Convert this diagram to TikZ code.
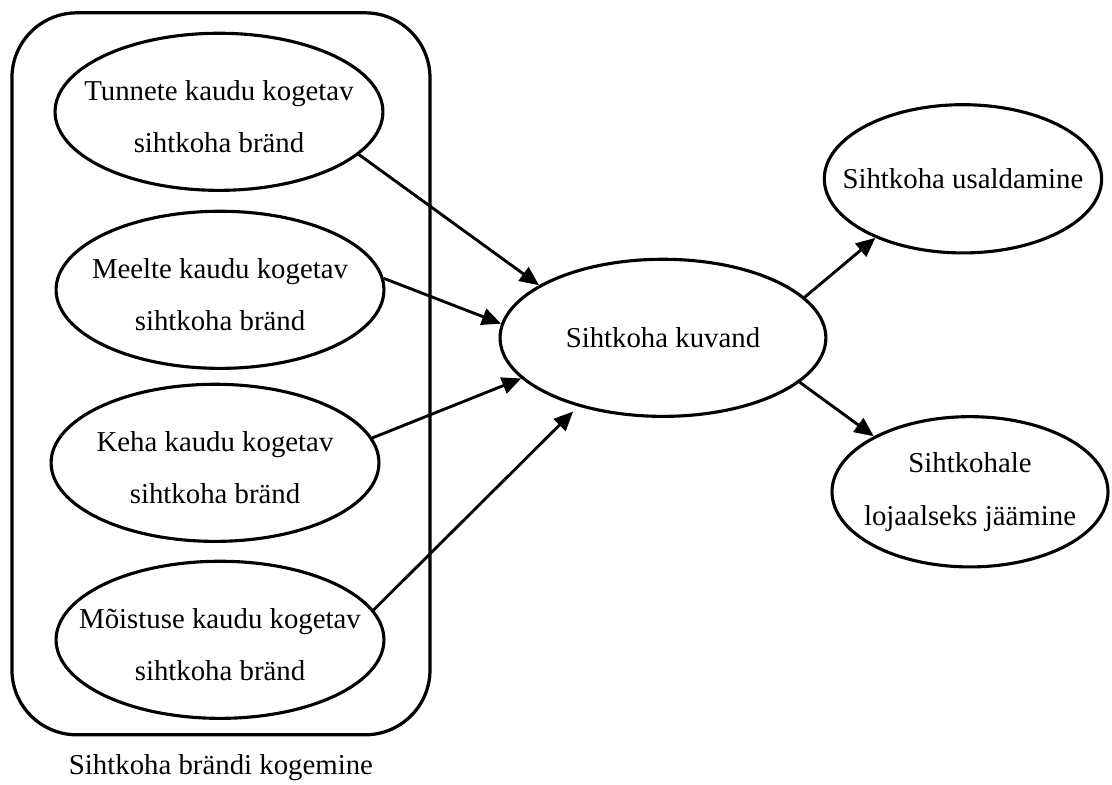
\documentclass[tikz,border=0pt]{standalone}
\usepackage{fontspec}
\setmainfont{Liberation Serif}
\usetikzlibrary{shapes.geometric,arrows.meta}
\begin{document}
\begin{tikzpicture}
\tikzset{ovaal/.style={draw, ellipse, line width=1.3pt, inner sep=0pt},
  tekst/.style={align=center, font=\fontsize{12pt}{22pt}\selectfont},
  raam/.style={draw, rounded corners=0.95cm, line width=1.35pt, minimum width=6.12cm, minimum height=10.57cm},
  nool/.style={line width=1.2pt, -{Triangle[length=8pt,width=7pt]}}}
\useasboundingbox (0,0) rectangle (16.28,11.49);
\node[raam] (grupp) at (3.235,6.017) {};
\node[tekst] (grupilabel) at (3.235,0.25) {Sihtkoha brändi kogemine};
\node[ovaal, minimum width=4.8cm, minimum height=2.3cm, label={[tekst, yshift=-2pt]center:{Tunnete kaudu kogetav\\sihtkoha bränd}}] (tunne) at (3.206,9.853) {};
\node[ovaal, minimum width=4.8cm, minimum height=2.3cm, label={[tekst, yshift=-2pt]center:{Meelte kaudu kogetav\\sihtkoha bränd}}] (meel) at (3.221,7.247) {};
\node[ovaal, minimum width=4.8cm, minimum height=2.3cm, label={[tekst, yshift=-2pt]center:{Keha kaudu kogetav\\sihtkoha bränd}}] (keha) at (3.148,4.714) {};
\node[ovaal, minimum width=4.8cm, minimum height=2.3cm, label={[tekst, yshift=-2pt]center:{Mõistuse kaudu kogetav\\sihtkoha bränd}}] (moistus) at (3.221,2.123) {};
\node[ovaal, minimum width=4.77cm, minimum height=2.3cm, label={[tekst]center:{Sihtkoha kuvand}}] (kuvand) at (9.706,6.544) {};
\node[ovaal, minimum width=4.06cm, minimum height=2.17cm, label={[tekst]center:{Sihtkoha usaldamine}}] (usaldus) at (14.098,8.872) {};
\node[ovaal, minimum width=4.04cm, minimum height=2.2cm, label={[tekst]center:{Sihtkohale\\lojaalseks jäämine}}] (lojaalsus) at (14.201,4.29) {};
\draw[nool] (tunne.-17) -- (kuvand.157);
\draw[nool] (meel.4) -- (kuvand.175);
\draw[nool] (keha.9) -- (kuvand.196);
\draw[nool, shorten >=3pt] (moistus.11) -- (kuvand.219);
\draw[nool] (kuvand.16) -- (usaldus.214);
\draw[nool] (kuvand.-18) -- (lojaalsus.150);
\end{tikzpicture}
\end{document}
